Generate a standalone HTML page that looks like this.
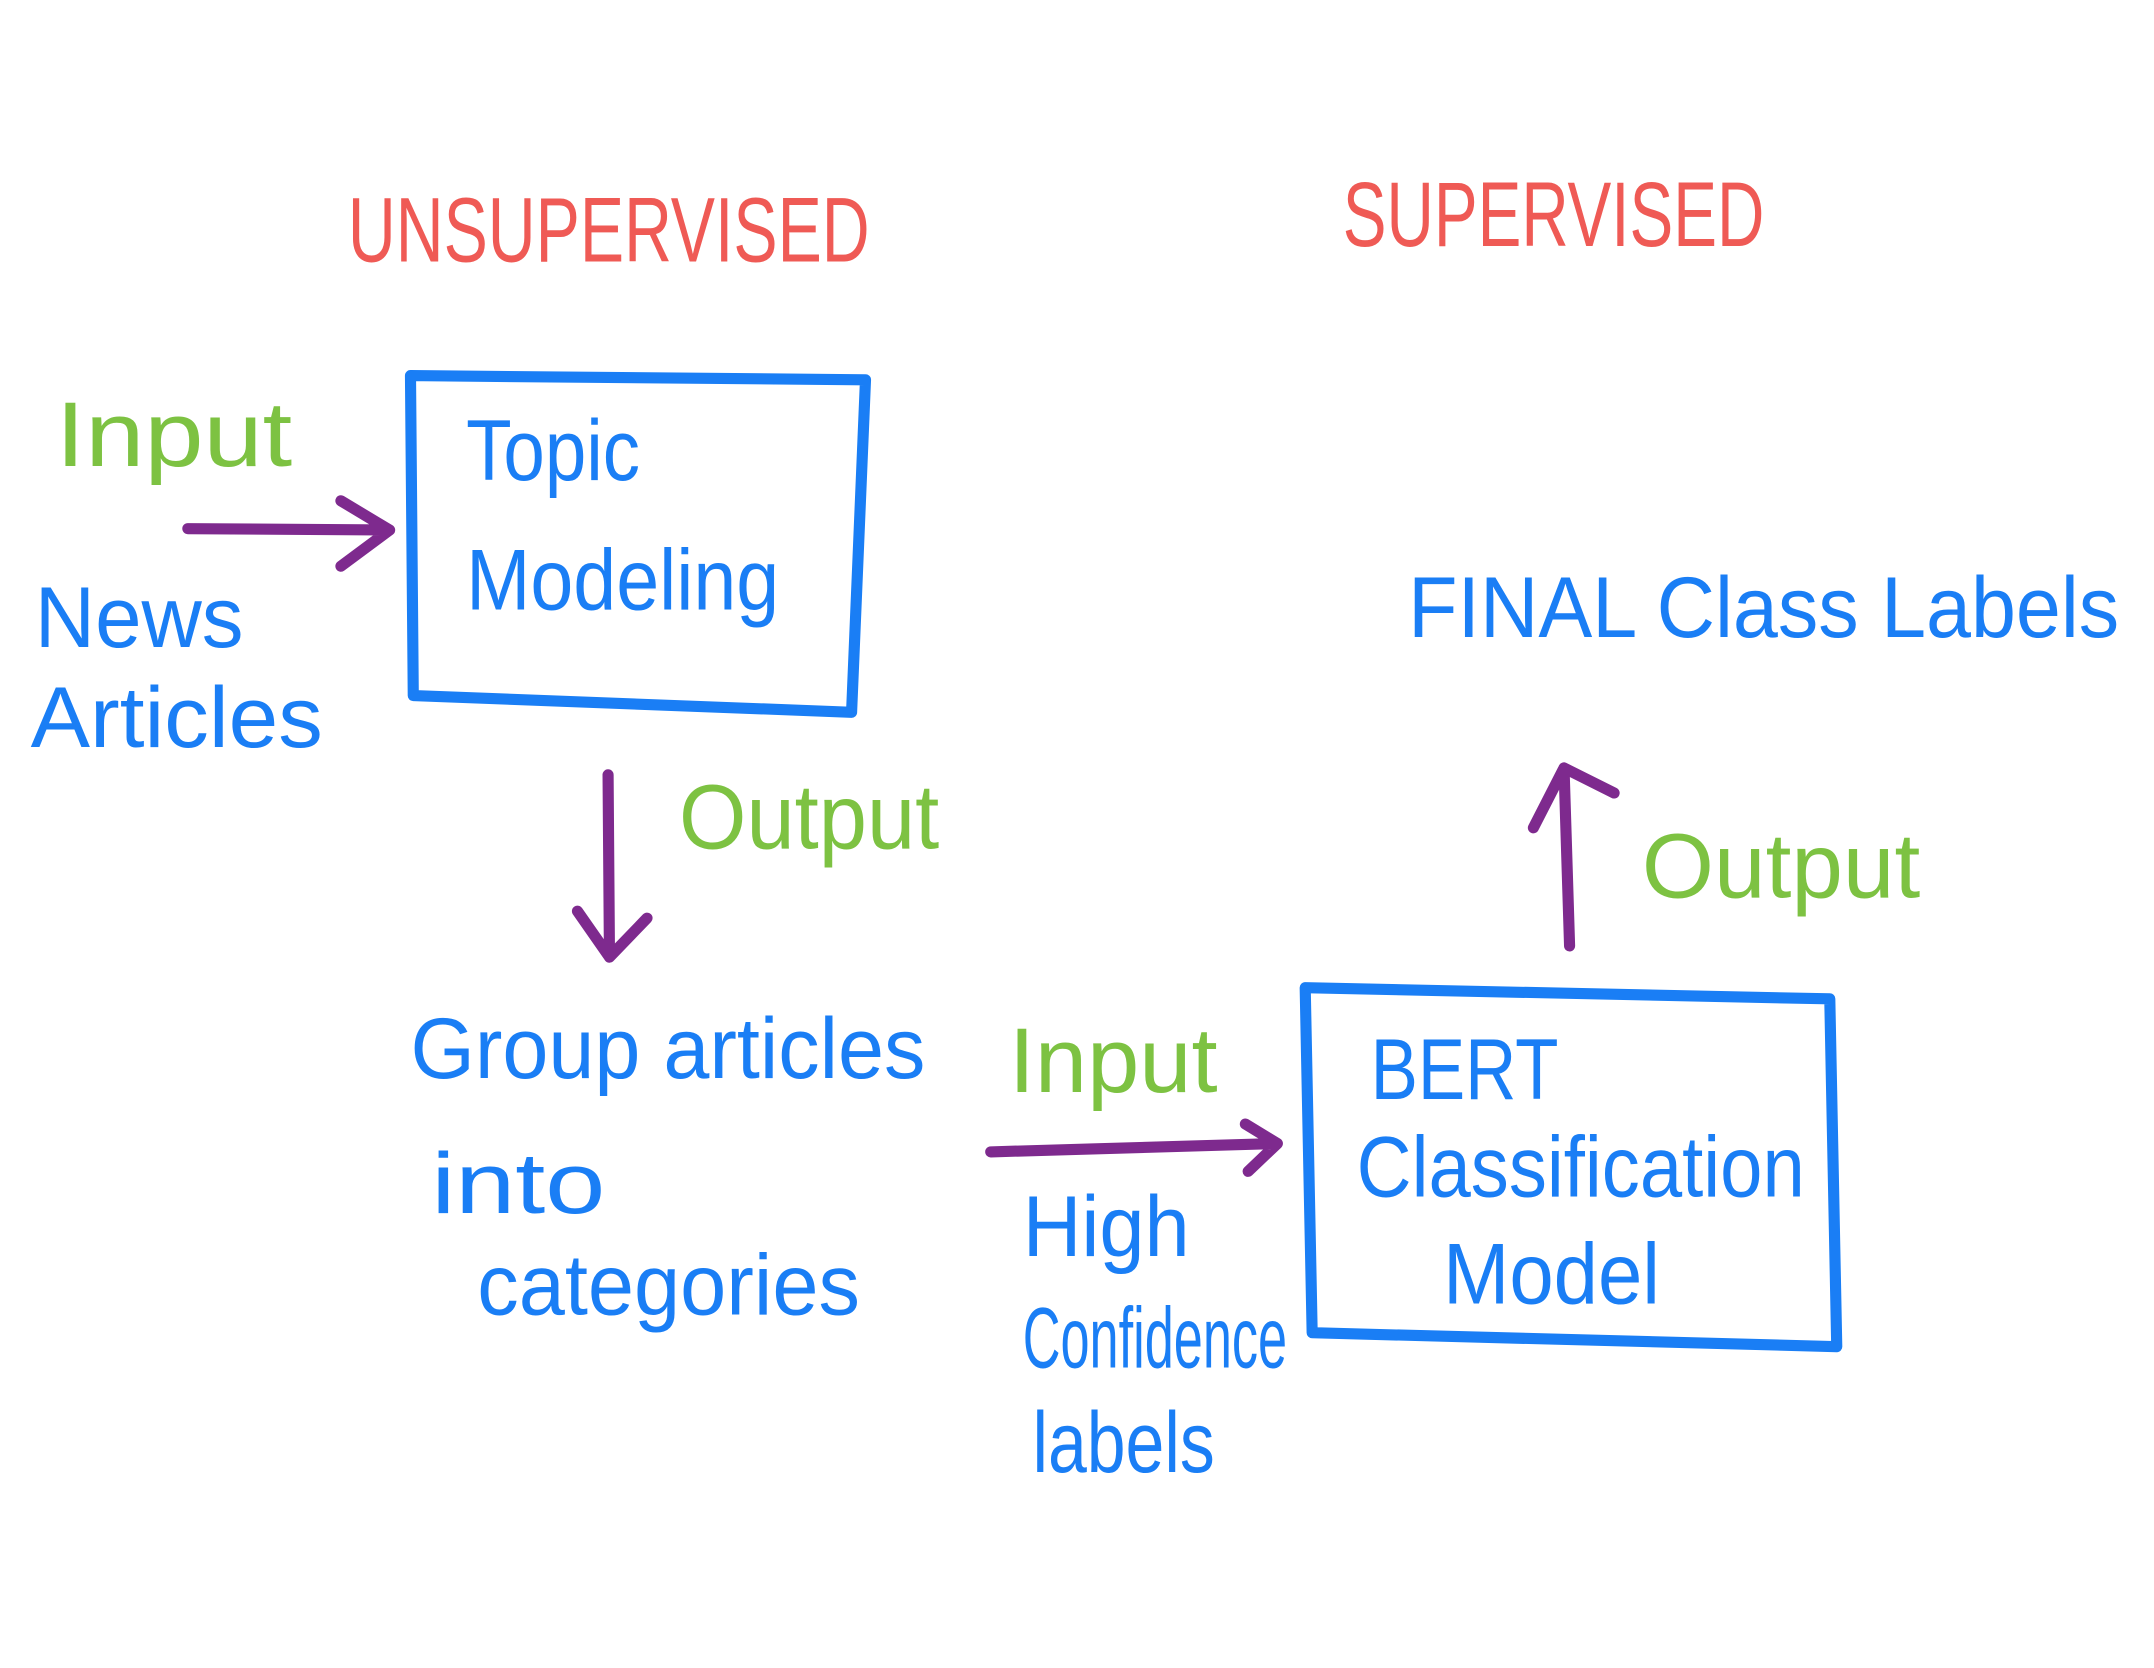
<!DOCTYPE html>
<html><head><meta charset="utf-8"><style>
html,body{margin:0;padding:0;background:#fff;}
svg{display:block;}
text{font-family:"Liberation Sans Narrow","Liberation Sans",sans-serif;}
</style></head><body>
<svg width="2154" height="1668" viewBox="0 0 1548 1199" preserveAspectRatio="none" xmlns="http://www.w3.org/2000/svg">
<rect width="1548" height="1199" fill="#fff"/>
<g fill="#ef5a55" font-size="66">
<text x="250" y="188" textLength="375" lengthAdjust="spacingAndGlyphs">UNSUPERVISED</text>
<text x="965" y="177" textLength="303" lengthAdjust="spacingAndGlyphs">SUPERVISED</text>
</g>
<g fill="none" stroke="#1a7ef5" stroke-width="8" stroke-linecap="round" stroke-linejoin="round">
<path d="M295,270 L622,273 L612,512 L297,500 Z"/>
<path d="M938,710 L1315,718 L1320,968 L943,958 Z"/>
</g>
<g fill="none" stroke="#7e2a8e" stroke-width="8" stroke-linecap="round" stroke-linejoin="round">
<path d="M135,380 L280,381 M245,360 L280,381 L245,407"/>
<path d="M437,557 L438,688 M415,655 L438,688 L465,660"/>
<path d="M712,828 L918,822 M895,808 L918,822 L897,842"/>
<path d="M1128,680 L1124,552 M1102,595 L1124,552 L1160,570"/>
</g>
<g fill="#7dc242" font-size="66">
<text x="40" y="335" textLength="170" lengthAdjust="spacingAndGlyphs">Input</text>
<text x="488" y="610" textLength="187" lengthAdjust="spacingAndGlyphs">Output</text>
<text x="725" y="785" textLength="150" lengthAdjust="spacingAndGlyphs">Input</text>
<text x="1180" y="645" textLength="200" lengthAdjust="spacingAndGlyphs">Output</text>
</g>
<g fill="#1a7ef5" font-size="62">
<text x="335" y="345" textLength="125" lengthAdjust="spacingAndGlyphs">Topic</text>
<text x="335" y="438" textLength="225" lengthAdjust="spacingAndGlyphs">Modeling</text>
<text x="25" y="465" textLength="150" lengthAdjust="spacingAndGlyphs">News</text>
<text x="22" y="537" textLength="210" lengthAdjust="spacingAndGlyphs">Articles</text>
<text x="295" y="775" textLength="370" lengthAdjust="spacingAndGlyphs">Group articles</text>
<text x="310" y="872" textLength="125" lengthAdjust="spacingAndGlyphs">into</text>
<text x="343" y="945" textLength="275" lengthAdjust="spacingAndGlyphs">categories</text>
<text x="735" y="903" textLength="120" lengthAdjust="spacingAndGlyphs">High</text>
<text x="735" y="983" textLength="190" lengthAdjust="spacingAndGlyphs">Confidence</text>
<text x="742" y="1058" textLength="131" lengthAdjust="spacingAndGlyphs">labels</text>
<text x="985" y="790" textLength="135" lengthAdjust="spacingAndGlyphs">BERT</text>
<text x="975" y="860" textLength="322" lengthAdjust="spacingAndGlyphs">Classification</text>
<text x="1037" y="937" textLength="156" lengthAdjust="spacingAndGlyphs">Model</text>
<text x="1012" y="458" textLength="511" lengthAdjust="spacingAndGlyphs">FINAL Class Labels</text>
</g>
</svg>
</body></html>
